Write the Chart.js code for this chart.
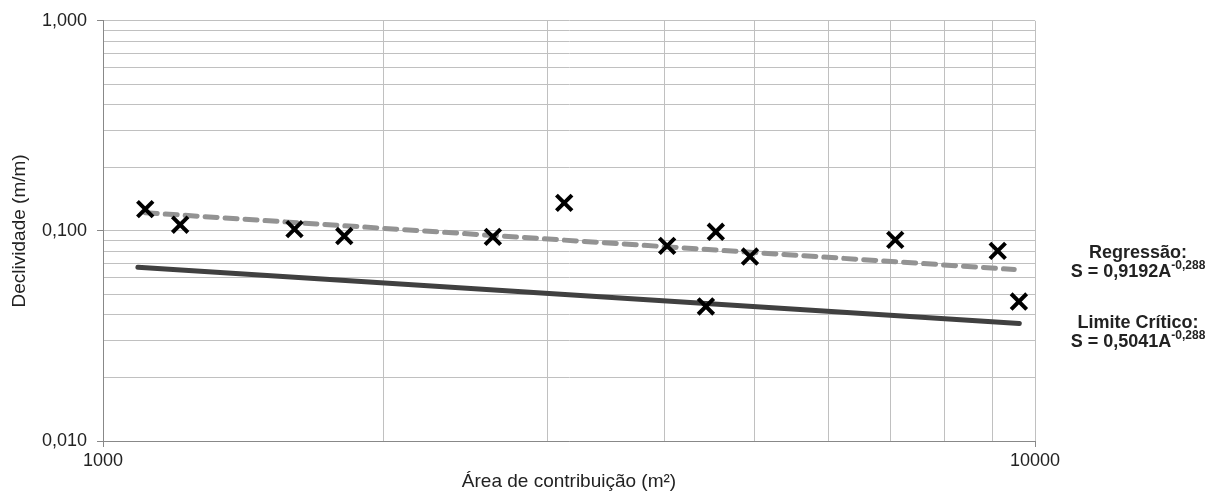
<!DOCTYPE html>
<html lang="pt">
<head>
    <meta charset="UTF-8">
    <title>Declividade x Área de contribuição</title>
    <script src="https://cdn.jsdelivr.net/npm/chart.js"></script>
    <style>
        html, body { margin: 0; padding: 0; background: #fff; }
        #wrap { width: 1219px; height: 493px; }
    </style>
</head>
<body>
    <div id="wrap"><canvas id="chart"></canvas></div>
    <script>
        // pontos medidos
        const areas = [1110, 1210, 1605, 1815, 2620, 3125, 4030, 4435, 4545, 4945, 7080, 9120, 9610];
        const slopes = [0.127, 0.107, 0.102, 0.0945, 0.0937, 0.136, 0.0849, 0.0437, 0.099, 0.0755, 0.0906, 0.0803, 0.0461];

        // extremos das linhas
        const regX = [1110, 9500];
        const regY = [0.122, 0.0655];
        const critX = [1090, 9620];
        const critY = [0.0672, 0.0362];

        const xTicks = [1000, 2000, 3000, 4000, 5000, 6000, 7000, 8000, 9000, 10000];
        const yTicks = [0.01, 0.02, 0.03, 0.04, 0.05, 0.06, 0.07, 0.08, 0.09,
                        0.1, 0.2, 0.3, 0.4, 0.5, 0.6, 0.7, 0.8, 0.9, 1];
        const xLabels = { 1000: '1000', 10000: '10000' };
        const yLabels = { 0.01: '0,010', 0.1: '0,100', 1: '1,000' };

        const notes = [
            { title: 'Regressão:', coef: 'S = 0,9192A', exp: '-0,288', y: 253 },
            { title: 'Limite Crítico:', coef: 'S = 0,5041A', exp: '-0,288', y: 323 }
        ];

        const FONT = '"Liberation Sans", Arial, sans-serif';

        const notePlugin = {
            id: 'notes',
            afterDraw(chart) {
                const ctx = chart.ctx;
                const cx = 1138;
                ctx.save();
                ctx.fillStyle = '#222';
                ctx.textBaseline = 'middle';
                notes.forEach(n => {
                    ctx.font = 'bold 18px ' + FONT;
                    ctx.textAlign = 'center';
                    ctx.fillText(n.title, cx, n.y);
                    const w1 = ctx.measureText(n.coef).width;
                    ctx.font = 'bold 12px ' + FONT;
                    const w2 = ctx.measureText(n.exp).width;
                    const x0 = cx - (w1 + w2) / 2;
                    ctx.textAlign = 'left';
                    ctx.fillText(n.exp, x0 + w1, n.y + 13);
                    ctx.font = 'bold 18px ' + FONT;
                    ctx.fillText(n.coef, x0, n.y + 19);
                });
                ctx.restore();
            }
        };

        const isMajor = v => Math.abs(Math.log10(v) - Math.round(Math.log10(v))) < 1e-9;

        new Chart(document.getElementById('chart'), {
            type: 'scatter',
            data: {
                datasets: [
                    {
                        label: 'Pontos',
                        data: areas.map((a, i) => ({ x: a, y: slopes[i] })),
                        pointStyle: 'crossRot',
                        pointRadius: 11,
                        pointBorderWidth: 4,
                        borderColor: '#000',
                        backgroundColor: '#000',
                        order: 0
                    },
                    {
                        label: 'Regressão',
                        type: 'line',
                        data: regX.map((a, i) => ({ x: a, y: regY[i] })),
                        borderColor: '#939393',
                        borderWidth: 5,
                        borderDash: [12, 8],
                        borderCapStyle: 'round',
                        pointRadius: 0,
                        order: 1
                    },
                    {
                        label: 'Limite Crítico',
                        type: 'line',
                        data: critX.map((a, i) => ({ x: a, y: critY[i] })),
                        borderColor: '#404040',
                        borderWidth: 5,
                        borderCapStyle: 'round',
                        pointRadius: 0,
                        order: 2
                    }
                ]
            },
            options: {
                responsive: true,
                maintainAspectRatio: false,
                animation: false,
                layout: { padding: { top: 20, right: 184, left: 0, bottom: 0 } },
                plugins: { legend: { display: false }, tooltip: { enabled: false } },
                scales: {
                    x: {
                        type: 'logarithmic',
                        min: 1000,
                        max: 10000,
                        afterBuildTicks: s => { s.ticks = xTicks.map(v => ({ value: v })); },
                        afterFit: s => { s.height = 52; },
                        ticks: {
                            autoSkip: false,
                            maxRotation: 0,
                            padding: 3,
                            color: '#222',
                            font: { family: FONT, size: 18 },
                            callback: v => xLabels[v] || ''
                        },
                        grid: {
                            color: '#c0c0c0',
                            tickLength: 6,
                            tickColor: c => (c.tick && isMajor(c.tick.value)) ? '#888' : 'rgba(0,0,0,0)'
                        },
                        border: { color: '#888' },
                        title: {
                            display: true,
                            text: 'Área de contribuição (m²)',
                            color: '#222',
                            padding: { top: 0, bottom: 0 },
                            font: { family: FONT, size: 19 }
                        }
                    },
                    y: {
                        type: 'logarithmic',
                        min: 0.01,
                        max: 1,
                        afterBuildTicks: s => { s.ticks = yTicks.map(v => ({ value: v })); },
                        afterFit: s => { s.width = 103; },
                        ticks: {
                            autoSkip: false,
                            padding: 10,
                            color: '#222',
                            font: { family: FONT, size: 18 },
                            callback: v => {
                                for (const k in yLabels) if (Math.abs(v - k) < 1e-9) return yLabels[k];
                                return '';
                            }
                        },
                        grid: {
                            color: '#c0c0c0',
                            tickLength: 6,
                            tickColor: c => (c.tick && isMajor(c.tick.value)) ? '#888' : 'rgba(0,0,0,0)'
                        },
                        border: { color: '#888' },
                        title: {
                            display: true,
                            text: 'Declividade (m/m)',
                            color: '#222',
                            padding: { top: 8, bottom: 0 },
                            font: { family: FONT, size: 19 }
                        }
                    }
                }
            },
            plugins: [notePlugin]
        });
    </script>
</body>
</html>
